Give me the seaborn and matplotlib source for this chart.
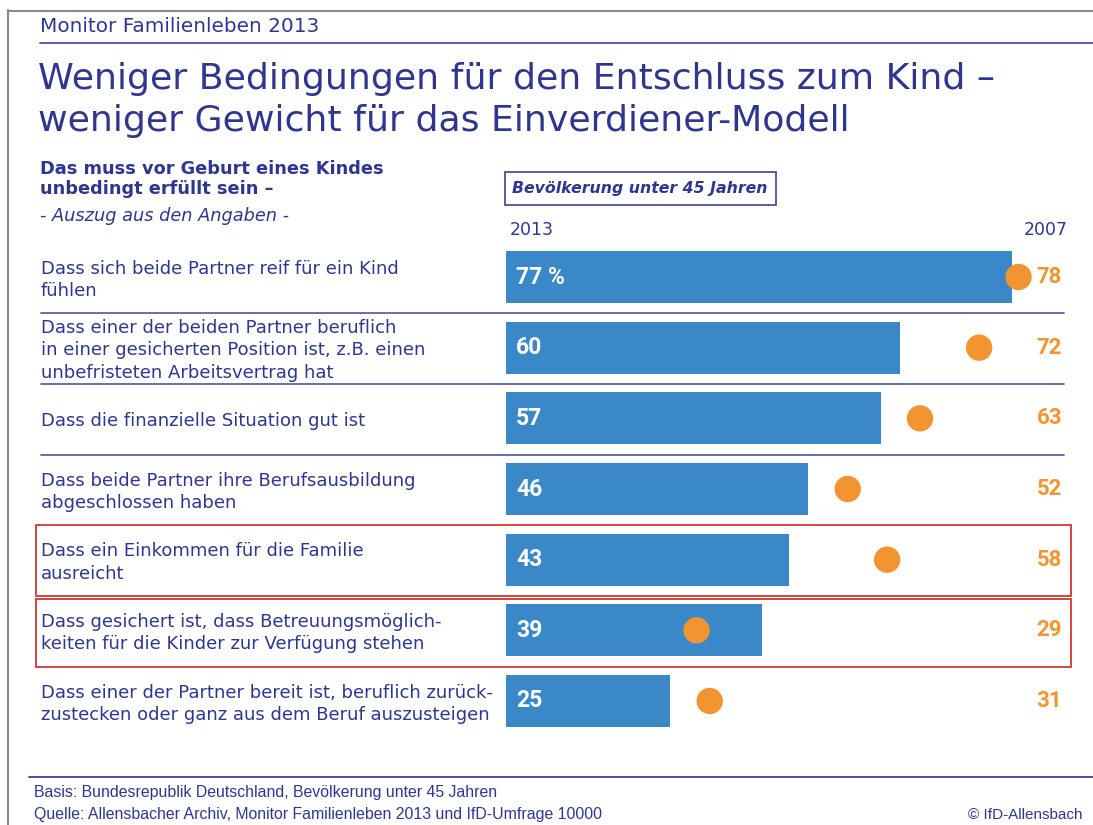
import numpy as np
import pandas as pd
import matplotlib
matplotlib.use("Agg")
import matplotlib.pyplot as plt
import matplotlib.transforms as mtransforms
from matplotlib.patches import Rectangle
from matplotlib.lines import Line2D
import seaborn as sns

# ---------------- data ----------------
labels = [
    "Dass sich beide Partner reif für ein Kind\nfühlen",
    "Dass einer der beiden Partner beruflich\nin einer gesicherten Position ist, z.B. einen\nunbefristeten Arbeitsvertrag hat",
    "Dass die finanzielle Situation gut ist",
    "Dass beide Partner ihre Berufsausbildung\nabgeschlossen haben",
    "Dass ein Einkommen für die Familie\nausreicht",
    "Dass gesichert ist, dass Betreuungsmöglich-\nkeiten für die Kinder zur Verfügung stehen",
    "Dass einer der Partner bereit ist, beruflich zurück-\nzustecken oder ganz aus dem Beruf auszusteigen",
]
values_2013 = [77, 60, 57, 46, 43, 39, 25]
values_2007 = [78, 72, 63, 52, 58, 29, 31]
bar_text = ["77 %", "60", "57", "46", "43", "39", "25"]

title = "Weniger Bedingungen für den Entschluss zum Kind –\nweniger Gewicht für das Einverdiener-Modell"
header = "Monitor Familienleben 2013"
subtitle = "Das muss vor Geburt eines Kindes\nunbedingt erfüllt sein –"
subnote = "- Auszug aus den Angaben -"
boxlabel = "Bevölkerung unter 45 Jahren"
year_new, year_old = "2013", "2007"
foot1 = "Basis: Bundesrepublik Deutschland, Bevölkerung unter 45 Jahren"
foot2 = "Quelle: Allensbacher Archiv, Monitor Familienleben 2013 und IfD-Umfrage 10000"
foot3 = "© IfD-Allensbach"

df = pd.DataFrame({"label": labels, "v2013": values_2013, "v2007": values_2007,
                   "pos": np.arange(len(labels))})

# ---------------- style ----------------
NAVY = "#2e3690"
BLUE = "#3a88c8"
ORANGE = "#f39431"
RED = "#d4463f"
GRAY = "#8a8a8a"

sns.set_theme(style="white")
plt.rcParams["font.family"] = ["DejaVu Sans"]

W, H = 1093, 825
fig = plt.figure(figsize=(W / 100, H / 100), dpi=100)
fig.patch.set_facecolor("white")

def fx(x):
    return x / W

def fy(y):
    return 1 - y / H

# axes for the bars: x=0 at pixel 506, 6.571 px per percent
x0_px = 506
px_per = 506 / 77
row_top, row_bot = 241.67, 736.33
ax = fig.add_axes([fx(x0_px), fy(row_bot), fx(W - x0_px), (row_bot - row_top) / H])
ax.set_facecolor("none")

sns.barplot(data=df, x="v2013", y="pos", orient="h", color=BLUE, width=0.735,
            saturation=1, ax=ax, native_scale=True, edgecolor="none")
sns.scatterplot(data=df, x="v2007", y="pos", color=ORANGE, s=360, edgecolor="none",
                ax=ax, legend=False, zorder=5, clip_on=False)

ax.set_xlim(0, (W - x0_px) / px_per)
ax.set_ylim(len(labels) - 0.5, -0.5)
ax.set_axis_off()

# text in rows
tr_left = mtransforms.blended_transform_factory(fig.transFigure, ax.transData)
for i, lab in enumerate(labels):
    ax.text(fx(41), i + 0.04, lab, transform=tr_left, ha="left", va="center",
            fontsize=13.0, color=NAVY, linespacing=1.3, clip_on=False)
    ax.text(fx(516), i, bar_text[i], transform=tr_left, ha="left", va="center",
            fontsize=16.5, color="white", fontweight="bold", family="Roboto", clip_on=False)
    ax.text(fx(1062), i, str(values_2007[i]), transform=tr_left, ha="right", va="center",
            fontsize=16, color=ORANGE, fontweight="bold", family="Roboto", clip_on=False)

# separator lines
for y in [313, 384, 455]:
    fig.add_artist(Line2D([fx(41), fx(1064)], [fy(y), fy(y)], color=NAVY, lw=1.2, alpha=0.85))

# red highlight boxes
for (yt, yb) in [(525, 595.5), (598.5, 667)]:
    fig.add_artist(Rectangle((fx(36), fy(yb)), fx(1071 - 36), (yb - yt) / H,
                             fill=False, edgecolor=RED, lw=1.4))

# frame lines
fig.add_artist(Line2D([fx(8), fx(8)], [fy(10), fy(825)], color=GRAY, lw=1.5))
fig.add_artist(Line2D([fx(8), fx(1093)], [fy(10.5), fy(10.5)], color=GRAY, lw=1.5))
fig.add_artist(Line2D([fx(40), fx(1093)], [fy(42.5), fy(42.5)], color="#4a4faa", lw=1.3))
fig.add_artist(Line2D([fx(29), fx(1093)], [fy(777), fy(777)], color="#3a3f9a", lw=1.3))

# header texts
fig.text(fx(40), fy(27), header, ha="left", va="center", fontsize=14.4, color=NAVY)
fig.text(fx(38), fy(100), title, ha="left", va="center", fontsize=26.1, color=NAVY,
         linespacing=1.32)
fig.text(fx(40), fy(179), subtitle, ha="left", va="center", fontsize=12.8, color=NAVY,
         fontweight="bold", linespacing=1.12)
fig.text(fx(40), fy(216), subnote, ha="left", va="center", fontsize=12.8, color=NAVY,
         style="italic")

# box label
fig.add_artist(Rectangle((fx(505), fy(205)), fx(776 - 505), 33 / H, fill=False,
                         edgecolor="#4a4f9e", lw=1.3))
fig.text(fx(640), fy(188.5), boxlabel, ha="center", va="center", fontsize=11.3,
         color=NAVY, fontweight="bold", style="italic")

fig.text(fx(510), fy(230), year_new, ha="left", va="center", fontsize=12.5, color=NAVY)
fig.text(fx(1068), fy(230), year_old, ha="right", va="center", fontsize=12.5, color=NAVY)

# footer
fig.text(fx(34), fy(793), foot1, ha="left", va="center", fontsize=11.4, color=NAVY,
         family="Liberation Sans")
fig.text(fx(34), fy(815), foot2, ha="left", va="center", fontsize=11.4, color=NAVY,
         family="Liberation Sans")
fig.text(fx(1083), fy(815), foot3, ha="right", va="center", fontsize=11.0, color=NAVY,
         family="Liberation Sans")

fig.savefig("out.png", dpi=100, facecolor="white")
